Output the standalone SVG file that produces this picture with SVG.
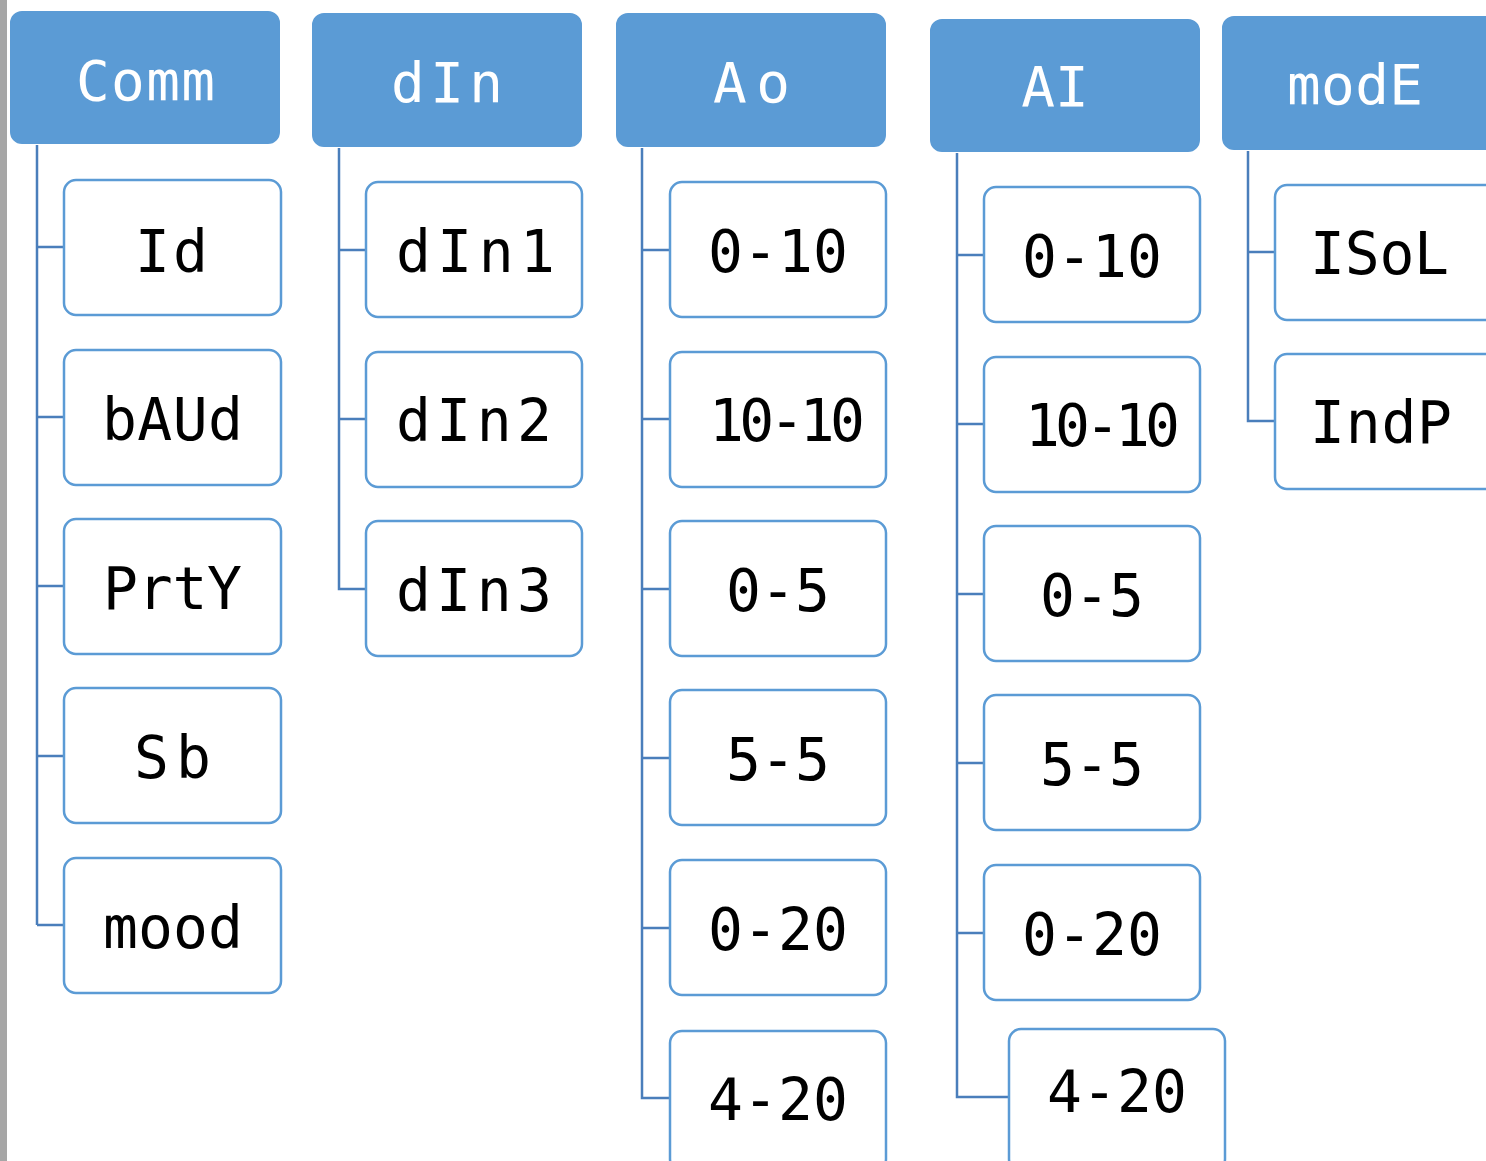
<svg xmlns="http://www.w3.org/2000/svg" width="1486" height="1161" viewBox="0 0 1486 1161">
<style>
.hdr{fill:#5B9BD5;stroke:#5B9BD5;stroke-width:2}
.box{fill:#FFFFFF;stroke:#5B9BD5;stroke-width:2.5}
.ht{font-family:"DejaVu Sans Mono","Liberation Mono",monospace;font-size:56px;fill:#FFFFFF;text-anchor:middle}
.ct{font-family:"DejaVu Sans Mono","Liberation Mono",monospace;font-size:58px;fill:#000000;text-anchor:middle}
.ln{fill:none;stroke:#4A7EBB;stroke-width:2.5}
</style>
<rect x="0" y="0" width="1486" height="1161" fill="#FFFFFF"/>
<rect x="0" y="0" width="7" height="1161" fill="#A6A6A6"/>
<g id="connectors">
<path class="ln" d="M37 145V925M37 247H64M37 417H64M37 586H64M37 756H64M37 925H64"/>
<path class="ln" d="M339 148V589H366M339 250H366M339 419H366"/>
<path class="ln" d="M642 148V1098H670M642 250H670M642 419H670M642 589H670M642 758H670M642 928H670"/>
<path class="ln" d="M957 153V1097H1009M957 255H984M957 424H984M957 594H984M957 763H984M957 933H984"/>
<path class="ln" d="M1248 151V421H1275M1248 252H1275"/>
</g>
<g id="comm"><rect class="hdr" x="11" y="12" width="268" height="131" rx="11"/><text class="ht" x="145.5" y="100" textLength="139" lengthAdjust="spacing">Comm</text></g>
<g id="id"><rect class="box" x="64" y="180" width="217" height="135" rx="12"/><text class="ct" x="171.5" y="272" textLength="73" lengthAdjust="spacing">Id</text></g>
<g id="baud"><rect class="box" x="64" y="350" width="217" height="135" rx="12"/><text class="ct" x="172.5" y="440" textLength="141" lengthAdjust="spacing">bAUd</text></g>
<g id="prty"><rect class="box" x="64" y="519" width="217" height="135" rx="12"/><text class="ct" x="172.5" y="609" textLength="139" lengthAdjust="spacing">PrtY</text></g>
<g id="sb"><rect class="box" x="64" y="688" width="217" height="135" rx="12"/><text class="ct" x="172.5" y="778" textLength="77" lengthAdjust="spacing">Sb</text></g>
<g id="mood"><rect class="box" x="64" y="858" width="217" height="135" rx="12"/><text class="ct" x="173" y="948" textLength="140" lengthAdjust="spacing">mood</text></g>

<g id="din"><rect class="hdr" x="313" y="14" width="268" height="132" rx="11"/><text class="ht" x="447" y="102" textLength="112" lengthAdjust="spacing">dIn</text></g>
<g id="din1"><rect class="box" x="366" y="182" width="216" height="135" rx="12"/><text class="ct" x="475.5" y="272" textLength="159" lengthAdjust="spacing">dIn1</text></g>
<g id="din2"><rect class="box" x="366" y="352" width="216" height="135" rx="12"/><text class="ct" x="474" y="441" textLength="156" lengthAdjust="spacing">dIn2</text></g>
<g id="din3"><rect class="box" x="366" y="521" width="216" height="135" rx="12"/><text class="ct" x="474" y="611" textLength="156" lengthAdjust="spacing">dIn3</text></g>

<g id="ao"><rect class="hdr" x="617" y="14" width="268" height="132" rx="11"/><text class="ht" x="751.5" y="102" textLength="77" lengthAdjust="spacing">Ao</text></g>
<g id="ao-0-10"><rect class="box" x="670" y="182" width="216" height="135" rx="12"/><text class="ct" x="778" y="272" textLength="140" lengthAdjust="spacing">0-10</text></g>
<g id="ao-10-10"><rect class="box" x="670" y="352" width="216" height="135" rx="12"/><text class="ct" x="787" y="441" textLength="156" lengthAdjust="spacing">10-10</text></g>
<g id="ao-0-5"><rect class="box" x="670" y="521" width="216" height="135" rx="12"/><text class="ct" x="778" y="611" textLength="104" lengthAdjust="spacing">0-5</text></g>
<g id="ao-5-5"><rect class="box" x="670" y="690" width="216" height="135" rx="12"/><text class="ct" x="778" y="780" textLength="104" lengthAdjust="spacing">5-5</text></g>
<g id="ao-0-20"><rect class="box" x="670" y="860" width="216" height="135" rx="12"/><text class="ct" x="778" y="950" textLength="140" lengthAdjust="spacing">0-20</text></g>
<g id="ao-4-20"><rect class="box" x="670" y="1031" width="216" height="140" rx="12"/><text class="ct" x="778" y="1120" textLength="140" lengthAdjust="spacing">4-20</text></g>

<g id="ai"><rect class="hdr" x="931" y="20" width="268" height="131" rx="11"/><text class="ht" x="1055" y="106">AI</text></g>
<g id="ai-0-10"><rect class="box" x="984" y="187" width="216" height="135" rx="12"/><text class="ct" x="1092" y="277" textLength="140" lengthAdjust="spacing">0-10</text></g>
<g id="ai-10-10"><rect class="box" x="984" y="357" width="216" height="135" rx="12"/><text class="ct" x="1102.5" y="446" textLength="155" lengthAdjust="spacing">10-10</text></g>
<g id="ai-0-5"><rect class="box" x="984" y="526" width="216" height="135" rx="12"/><text class="ct" x="1092" y="616" textLength="104" lengthAdjust="spacing">0-5</text></g>
<g id="ai-5-5"><rect class="box" x="984" y="695" width="216" height="135" rx="12"/><text class="ct" x="1092" y="785" textLength="104" lengthAdjust="spacing">5-5</text></g>
<g id="ai-0-20"><rect class="box" x="984" y="865" width="216" height="135" rx="12"/><text class="ct" x="1092" y="955" textLength="140" lengthAdjust="spacing">0-20</text></g>
<g id="ai-4-20"><rect class="box" x="1009" y="1029" width="216" height="142" rx="12"/><text class="ct" x="1117" y="1112" textLength="140" lengthAdjust="spacing">4-20</text></g>

<g id="mode"><rect class="hdr" x="1223" y="17" width="275" height="132" rx="11"/><text class="ht" x="1355" y="104" textLength="136" lengthAdjust="spacing">modE</text></g>
<g id="isol"><rect class="box" x="1275" y="185" width="225" height="135" rx="12"/><text class="ct" x="1379.5" y="274" textLength="139" lengthAdjust="spacing">ISoL</text></g>
<g id="indp"><rect class="box" x="1275" y="354" width="225" height="135" rx="12"/><text class="ct" x="1381" y="443" textLength="142" lengthAdjust="spacing">IndP</text></g>
</svg>
